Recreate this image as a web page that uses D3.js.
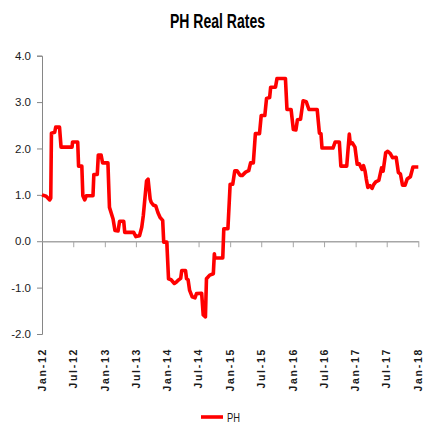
<!DOCTYPE html>
<html>
<head>
<meta charset="utf-8">
<script src="https://cdn.jsdelivr.net/npm/d3@7"></script>
<style>
  html, body { margin: 0; padding: 0; background: #fff; }
  svg { display: block; }
  text { font-family: "Liberation Sans", Arial, sans-serif; }
</style>
</head>
<body>
<svg id="chart" width="425" height="424"></svg>
<script>
// ---- Data ----
const title = "PH Real Rates";
const seriesName = "PH";
const dates = [
  "2012-01-01","2012-01-25","2012-02-15","2012-02-21","2012-02-25","2012-03-15","2012-03-21","2012-04-12",
  "2012-04-21","2012-06-24","2012-06-27","2012-07-27","2012-08-01","2012-08-20","2012-08-26","2012-09-06",
  "2012-09-15","2012-10-24","2012-10-29","2012-11-18","2012-11-24","2012-12-10","2012-12-19","2013-01-19",
  "2013-01-28","2013-02-18","2013-03-01","2013-03-19","2013-03-28","2013-04-21","2013-04-27","2013-06-18",
  "2013-07-01","2013-07-22","2013-08-04","2013-08-13","2013-09-01","2013-09-10","2013-09-22","2013-09-28",
  "2013-10-10","2013-10-25","2013-11-06","2013-11-19","2013-12-04","2013-12-10","2013-12-28","2014-01-07",
  "2014-01-22","2014-02-10","2014-02-22","2014-03-04","2014-03-19","2014-03-25","2014-04-16","2014-04-22",
  "2014-05-01","2014-05-10","2014-05-25","2014-06-10","2014-06-19","2014-07-19","2014-07-28","2014-08-10",
  "2014-08-16","2014-09-04","2014-09-25","2014-10-01","2014-10-04","2014-11-19","2014-11-25","2014-12-19",
  "2015-01-01","2015-01-16","2015-01-28","2015-02-10","2015-02-28","2015-03-13","2015-04-01","2015-04-19",
  "2015-04-30","2015-05-16","2015-05-28","2015-06-21","2015-07-01","2015-07-22","2015-08-01","2015-08-19",
  "2015-08-25","2015-09-22","2015-10-01","2015-11-19","2015-11-28","2015-12-22","2016-01-04","2016-01-19",
  "2016-01-28","2016-02-15","2016-03-01","2016-03-19","2016-04-04","2016-05-22","2016-06-04","2016-06-13",
  "2016-06-19","2016-08-22","2016-09-04","2016-09-28","2016-10-07","2016-11-10","2016-11-25","2016-12-01",
  "2016-12-13","2016-12-28","2017-01-10","2017-01-22","2017-02-07","2017-02-16","2017-02-25","2017-03-04",
  "2017-03-13","2017-03-25","2017-04-07","2017-04-16","2017-04-28","2017-05-16","2017-06-01","2017-06-10",
  "2017-06-25","2017-07-07","2017-07-22","2017-08-04","2017-08-25","2017-09-07","2017-09-19","2017-10-01",
  "2017-10-16","2017-10-28","2017-11-16","2017-12-01","2018-01-01"
];
const values = [
  1.00,0.97,0.89,0.93,2.33,2.35,2.46,2.46,
  2.03,2.03,2.14,2.14,1.62,1.62,0.98,0.89,
  0.98,0.98,1.44,1.44,1.86,1.86,1.69,1.69,
  0.73,0.48,0.23,0.22,0.43,0.43,0.19,0.19,
  0.10,0.12,0.30,0.55,1.30,1.34,0.91,0.84,
  0.78,0.76,0.62,0.51,0.45,-0.02,-0.02,-0.81,
  -0.83,-0.91,-0.88,-0.84,-0.80,-0.63,-0.63,-0.81,
  -0.83,-1.06,-1.20,-1.22,-1.13,-1.12,-1.59,-1.63,
  -0.81,-0.73,-0.70,-0.27,-0.36,-0.36,0.27,0.27,
  1.23,1.23,1.52,1.52,1.42,1.42,1.49,1.52,
  1.69,1.69,2.32,2.32,2.71,2.71,3.08,3.10,
  3.32,3.32,3.51,3.51,2.84,2.84,2.41,2.40,
  2.62,2.63,3.03,3.01,2.84,2.84,2.33,2.32,
  2.01,2.01,2.14,2.14,1.62,1.62,2.31,2.10,
  2.12,2.03,1.66,1.67,1.55,1.63,1.51,1.34,
  1.16,1.20,1.14,1.22,1.28,1.31,1.58,1.51,
  1.91,1.94,1.89,1.80,1.81,1.48,1.45,1.21,
  1.21,1.34,1.39,1.60,1.60
];
const yTicks = [-2, -1, 0, 1, 2, 3, 4];
const xTickDates = ["2012-01-01","2012-07-01","2013-01-01","2013-07-01","2014-01-01","2014-07-01",
  "2015-01-01","2015-07-01","2016-01-01","2016-07-01","2017-01-01","2017-07-01","2018-01-01"];
const xTickLabels = ["Jan-12","Jul-12","Jan-13","Jul-13","Jan-14","Jul-14","Jan-15","Jul-15",
  "Jan-16","Jul-16","Jan-17","Jul-17","Jan-18"];

// ---- Chart ----
const parse = d3.timeParse("%Y-%m-%d");
const data = dates.map((d, i) => ({ date: parse(d), value: values[i] }));
const svg = d3.select("#chart");

const x = d3.scaleTime()
  .domain([parse("2012-01-01"), parse("2018-01-01")])
  .range([42, 418.3]);
const y = d3.scaleLinear().domain([-2, 4]).range([334, 55.7]);

// Title
svg.append("text")
  .attr("x", 217.5).attr("y", 28)
  .attr("text-anchor", "middle")
  .attr("font-size", 19.5).attr("font-weight", "bold")
  .attr("fill", "#000")
  .attr("textLength", 95).attr("lengthAdjust", "spacingAndGlyphs")
  .text(title);

// Y axis
const yAxis = d3.axisLeft(y)
  .tickValues(yTicks)
  .tickFormat(d => d.toFixed(1))
  .tickSize(5)
  .tickPadding(6);
const gy = svg.append("g").attr("transform", "translate(42,0)").call(yAxis);
gy.select(".domain").attr("stroke", "#868686");
gy.selectAll(".tick line").attr("stroke", "#868686");
gy.selectAll(".tick text")
  .attr("font-size", 11.5)
  .attr("fill", "#1a1a1a")
  .attr("font-family", "'Liberation Sans', Arial, sans-serif");

// X axis at zero line (ticks only)
const xAxis = d3.axisBottom(x)
  .tickValues(xTickDates.map(parse))
  .tickFormat("")
  .tickSize(6)
  .tickSizeOuter(0);
const gx = svg.append("g").attr("transform", `translate(0,${y(0)})`).call(xAxis);
gx.select(".domain").attr("stroke", "#a6a6a6").attr("stroke-width", 1.3);
gx.selectAll(".tick line").attr("stroke", "#a6a6a6");
gx.selectAll(".tick").filter((d, i) => i === 0).select("line").remove();

// X tick labels at bottom, rotated
svg.append("g").selectAll("text")
  .data(xTickDates)
  .join("text")
  .attr("transform", d => `translate(${x(parse(d))},348) rotate(-90)`)
  .attr("dy", "0.36em")
  .attr("text-anchor", "end")
  .attr("font-size", 10.5)
  .attr("font-weight", "bold")
  .attr("letter-spacing", 1.7)
  .attr("fill", "#1a1a1a")
  .text((d, i) => xTickLabels[i]);

// Line
const line = d3.line()
  .x(d => x(d.date))
  .y(d => y(d.value));
svg.append("path")
  .datum(data)
  .attr("fill", "none")
  .attr("stroke", "#ff0000")
  .attr("stroke-width", 3.6)
  .attr("stroke-linejoin", "round")
  .attr("d", line);

// Legend
const lg = svg.append("g");
lg.append("line")
  .attr("x1", 201).attr("x2", 223)
  .attr("y1", 417).attr("y2", 417)
  .attr("stroke", "#ff0000").attr("stroke-width", 3.6);
lg.append("text")
  .attr("x", 227).attr("y", 421.5)
  .attr("font-size", 12)
  .attr("fill", "#1a1a1a")
  .attr("textLength", 13).attr("lengthAdjust", "spacingAndGlyphs")
  .text(seriesName);
</script>
</body>
</html>
